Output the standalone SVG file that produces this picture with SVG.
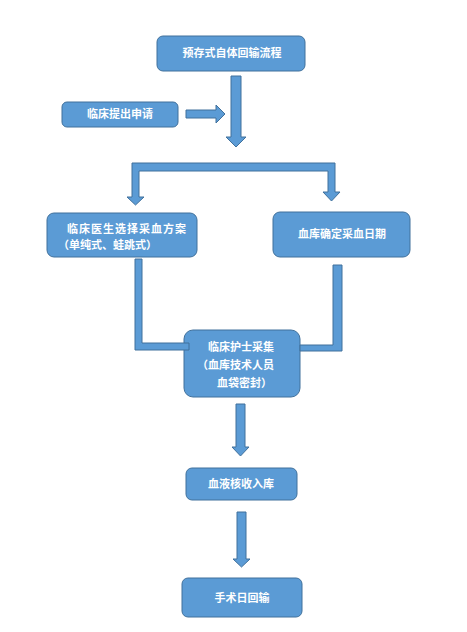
<svg xmlns="http://www.w3.org/2000/svg" width="467" height="632" viewBox="0 0 467 632">
<style>
.box{fill:#5B9BD5;stroke:#41719C;stroke-width:1}
.arr{fill:#5B9BD5;stroke:#41719C;stroke-width:1}
.t{fill:#ffffff;font-family:"Noto Sans CJK SC","Noto Sans",sans-serif;font-size:11px;font-weight:bold}
.m{text-anchor:middle}
</style>
<rect width="467" height="632" fill="#ffffff"/>
<g id="n-title"><rect class="box" x="157" y="36" width="148" height="35" rx="6"/><text class="t m" x="232" y="57">预存式自体回输流程</text></g>
<g id="n-request"><rect class="box" x="62" y="102" width="116" height="25" rx="5"/><text class="t m" x="120" y="118">临床提出申请</text></g>
<g id="n-doctor"><rect class="box" x="47" y="213" width="150" height="44" rx="7"/><text class="t m" x="127" y="233" letter-spacing="1">临床医生选择采血方案</text><text class="t" x="58" y="249">（单纯式、蛙跳式）</text></g>
<g id="n-bank"><rect class="box" x="273" y="212" width="137" height="45" rx="7"/><text class="t m" x="342" y="238">血库确定采血日期</text></g>
<g id="n-nurse"><rect class="box" x="184" y="330" width="116" height="67" rx="9"/><text class="t" x="208" y="351">临床护士采集</text><text class="t" x="197" y="369">（血库技术人员</text><text class="t" x="217" y="387">血袋密封）</text></g>
<g id="n-store"><rect class="box" x="186" y="468" width="111" height="32" rx="6"/><text class="t m" x="241" y="488">血液核收入库</text></g>
<g id="n-return"><rect class="box" x="182" y="578" width="120" height="39" rx="6"/><text class="t m" x="242" y="602">手术日回输</text></g>
<g id="connectors">
<polygon class="arr" points="231,76 241,76 241,137 246,137 236,147 226,137 231,137"/>
<polygon class="arr" points="186,110 216,110 216,105 225,114 216,123 216,118 186,118"/>
<path class="arr" d="M132,163 H335 V192 H340 L331.5,201 L323,192 H328 V171 H139 V197 H144 L135.5,205 L127,197 H132 Z"/>
<path class="arr" d="M135,259 H142 V343 H189 V350 H135 Z"/>
<path class="arr" d="M333,265 H342 V351 H300 V345 H333 Z"/>
<polygon class="arr" points="236,404 245,404 245,447 249,447 240.5,456 232,447 236,447"/>
<polygon class="arr" points="237,512 246,512 246,559 250,559 241.5,567 233,559 237,559"/>
</g>
</svg>
